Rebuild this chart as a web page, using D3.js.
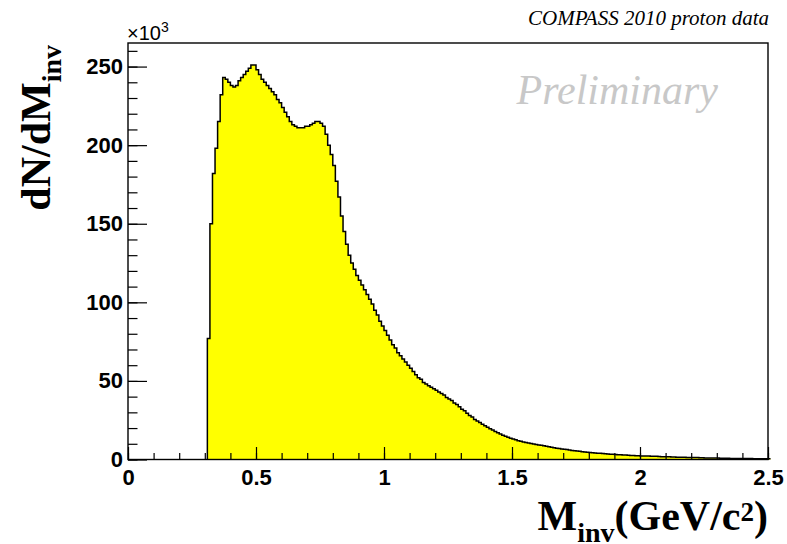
<!DOCTYPE html>
<html lang="en">
<head>
    <meta charset="UTF-8">
    <title>Minv</title>
    <script type="text/javascript" src="https://cdn.jsdelivr.net/npm/d3@7"></script>
    <style>
        body { margin: 0; background: #fff; }
        .axis path { display: none; }
        .tick line { stroke: #000; stroke-width: 1.2; }
        .title { font-family: "Liberation Serif", "Times New Roman", serif; font-weight: bold; fill: #000; }
    </style>
</head>
<body>
<svg id="chart" width="787" height="544"></svg>
<script>
    // histogram: first bin edge, bin width, contents (x10^3 entries)
    var binStart = 0.31,
        binWidth = 0.01;

    var counts = [
        77, 150, 182, 198, 215, 232, 243, 242, 240, 238,
        237, 238, 241, 243, 245, 247, 249, 251, 251, 248,
        245, 242, 240, 238, 236, 234, 232, 229, 227, 224,
        221, 218, 215, 213, 212, 211, 211, 211, 212, 212,
        213, 214, 215, 215, 214, 212, 207, 200, 194, 187,
        177, 167, 155, 145, 137, 130, 125, 121, 117, 114,
        111, 108, 105, 102, 99, 95, 92, 88, 85, 82,
        79, 76, 73, 71, 68, 66, 64, 62, 60, 58,
        56, 54, 52, 51, 49, 48, 47, 46, 45, 44,
        43, 42, 41, 39.5, 38.5, 37.5, 36, 35, 33.5, 32,
        31, 29.5, 28, 27, 25.5, 24.5, 23.5, 22.5, 21.5, 20.5,
        19.5, 18.7, 17.8, 17, 16.2, 15.5, 14.8, 14.2, 13.6, 13,
        12.5, 12, 11.6, 11.2, 10.8, 10.5, 10.2, 9.9, 9.6, 9.3,
        9.0, 8.7, 8.4, 8.1, 7.8, 7.5, 7.2, 7.0, 6.7, 6.5,
        6.3, 6.0, 5.8, 5.6, 5.4, 5.2, 5.0, 4.8, 4.6, 4.4,
        4.3, 4.1, 4.0, 3.9, 3.8, 3.6, 3.5, 3.4, 3.3, 3.2,
        3.1, 3.0, 2.9, 2.8, 2.7, 2.6, 2.5, 2.4, 2.35, 2.3,
        2.3, 2.2, 2.2, 2.1, 2.0, 2.0, 1.9, 1.8, 1.8, 1.7,
        1.7, 1.6, 1.6, 1.5, 1.5, 1.4, 1.4, 1.3, 1.3, 1.2,
        1.2, 1.2, 1.1, 1.1, 1.0, 1.0, 1.0, 0.9, 0.9, 0.9,
        0.8, 0.8, 0.8, 0.8, 0.7, 0.7, 0.7, 0.7, 0.6, 0.6,
        0.6, 0.6, 0.6, 0.5, 0.5, 0.5, 0.5, 0.5, 0.4, 0.4
    ];

    var xMajorTicks = [0, 0.5, 1, 1.5, 2, 2.5],
        yMajorTicks = [0, 50, 100, 150, 200, 250];

    var svg = d3.select("svg#chart");

    var frame = {left: 128, right: 768, top: 43, bottom: 459.5};

    var x = d3.scaleLinear().domain([0, 2.5]).range([frame.left, frame.right]);
    var y = d3.scaleLinear().domain([0, 265]).range([frame.bottom, frame.top]);

    var bins = counts.map(function (c, i) {
        return {x0: binStart + i * binWidth, x1: binStart + (i + 1) * binWidth, v: c};
    });

    // step outline of histogram
    var pts = [[x(bins[0].x0), y(0)]];
    bins.forEach(function (b) {
        pts.push([x(b.x0), y(b.v)]);
        pts.push([x(b.x1), y(b.v)]);
    });
    var fillPts = pts.concat([[x(bins[bins.length - 1].x1), y(0)]]);

    svg.append("path")
        .attr("d", d3.line()(fillPts) + "Z")
        .attr("fill", "#ffff00")
        .attr("stroke", "none");

    svg.append("path")
        .attr("d", d3.line()(pts))
        .attr("fill", "none")
        .attr("stroke", "#000")
        .attr("stroke-width", 1.5);

    // axes (ticks pointing inward)
    var fmt = d3.format("~g");

    function labelStyle(sel) {
        sel.selectAll("text")
            .style("font-family", "Liberation Sans, Arial, sans-serif")
            .style("font-weight", "bold")
            .style("font-size", "22px")
            .attr("fill", "#000");
    }

    svg.append("g")
        .attr("class", "axis")
        .attr("transform", "translate(0," + frame.bottom + ")")
        .call(d3.axisBottom(x).tickValues(d3.range(0, 2.501, 0.1)).tickSize(-6.5).tickFormat(""));

    svg.append("g")
        .attr("class", "axis")
        .attr("transform", "translate(0," + frame.bottom + ")")
        .call(d3.axisBottom(x).tickValues(xMajorTicks).tickSize(-12.5).tickPadding(6).tickFormat(fmt))
        .call(labelStyle)
        .selectAll("text").attr("dy", "0.9em");

    svg.append("g")
        .attr("class", "axis")
        .attr("transform", "translate(" + frame.left + ",0)")
        .call(d3.axisLeft(y).tickValues(d3.range(0, 261, 10)).tickSize(-9.5).tickFormat(""));

    svg.append("g")
        .attr("class", "axis")
        .attr("transform", "translate(" + frame.left + ",0)")
        .call(d3.axisLeft(y).tickValues(yMajorTicks).tickSize(-19).tickPadding(5).tickFormat(fmt))
        .call(labelStyle);

    // frame
    svg.append("rect")
        .attr("x", frame.left)
        .attr("y", frame.top)
        .attr("width", frame.right - frame.left)
        .attr("height", frame.bottom - frame.top)
        .attr("fill", "none")
        .attr("stroke", "#000")
        .attr("stroke-width", 1.4);

    // exponent
    var ex = svg.append("text")
        .attr("x", frame.left - 1)
        .attr("y", 40)
        .style("font-family", "Liberation Sans, Arial, sans-serif")
        .style("font-size", "20px");
    ex.append("tspan").text("\u00d710");
    ex.append("tspan").attr("dy", -8).style("font-size", "14px").text("3");

    // y title
    var yt = svg.append("text")
        .attr("class", "title")
        .attr("transform", "translate(50,45) rotate(-90)")
        .attr("text-anchor", "end")
        .style("font-size", "42px");
    yt.append("tspan").text("dN/dM");
    yt.append("tspan").attr("dy", 11).style("font-size", "28px").text("inv");

    // x title
    var xt = svg.append("text")
        .attr("class", "title")
        .attr("x", 768)
        .attr("y", 530)
        .attr("text-anchor", "end")
        .style("font-size", "42px");
    xt.append("tspan").text("M");
    xt.append("tspan").attr("dy", 12).style("font-size", "28px").text("inv");
    xt.append("tspan").attr("dy", -12).text("(GeV/c");
    xt.append("tspan").attr("dy", -9).style("font-size", "27px").text("2");
    xt.append("tspan").attr("dy", 9).text(")");

    svg.append("text")
        .attr("x", 769)
        .attr("y", 25)
        .attr("text-anchor", "end")
        .style("font-family", "Liberation Serif, Times New Roman, serif")
        .style("font-style", "italic")
        .style("font-size", "21px")
        .text("COMPASS 2010 proton data");

    svg.append("text")
        .attr("x", 718)
        .attr("y", 104)
        .attr("text-anchor", "end")
        .style("font-family", "Liberation Serif, Times New Roman, serif")
        .style("font-style", "italic")
        .style("font-size", "42px")
        .attr("fill", "#c8c8c8")
        .text("Preliminary");
</script>
</body>
</html>
